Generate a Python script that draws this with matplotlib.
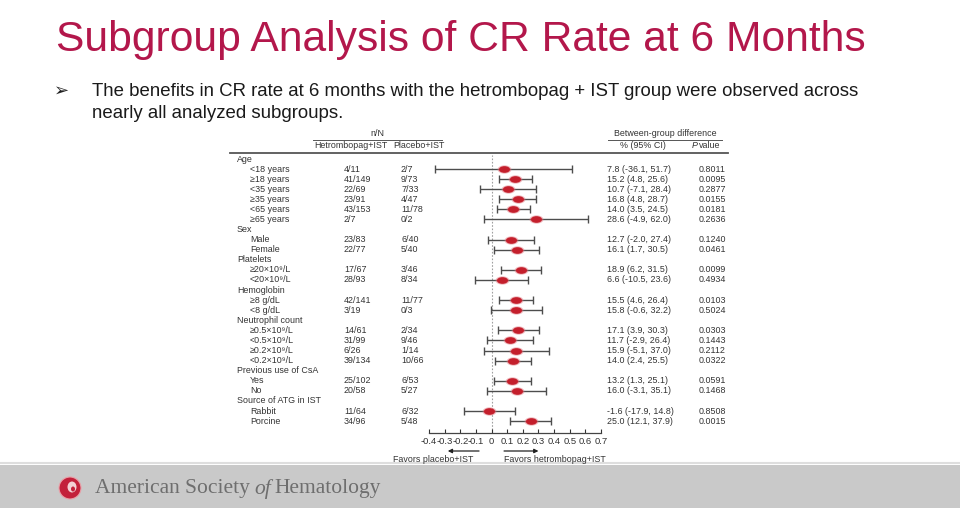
import numpy as np
import matplotlib.pyplot as plt
from matplotlib.path import Path
from matplotlib.lines import Line2D
from matplotlib.patches import Rectangle, Ellipse
from matplotlib.transforms import blended_transform_factory

plt.rcParams['font.family'] = ['Liberation Sans', 'DejaVu Sans']

# ---- data ----
group_names = ["Age", "Sex", "Platelets", "Hemoglobin", "Neutrophil count",
               "Previous use of CsA", "Source of ATG in IST"]
subgroups = [
    ["<18 years", "≥18 years", "<35 years", "≥35 years", "<65 years", "≥65 years"],
    ["Male", "Female"],
    ["≥20×10⁹/L", "<20×10⁹/L"],
    ["≥8 g/dL", "<8 g/dL"],
    ["≥0.5×10⁹/L", "<0.5×10⁹/L", "≥0.2×10⁹/L", "<0.2×10⁹/L"],
    ["Yes", "No"],
    ["Rabbit", "Porcine"],
]
hetro_nN = ["4/11", "41/149", "22/69", "23/91", "43/153", "2/7",
            "23/83", "22/77", "17/67", "28/93", "42/141", "3/19",
            "14/61", "31/99", "6/26", "39/134", "25/102", "20/58",
            "11/64", "34/96"]
placebo_nN = ["2/7", "9/73", "7/33", "4/47", "11/78", "0/2",
              "6/40", "5/40", "3/46", "8/34", "11/77", "0/3",
              "2/34", "9/46", "1/14", "10/66", "6/53", "5/27",
              "6/32", "5/48"]
diff = [7.8, 15.2, 10.7, 16.8, 14.0, 28.6, 12.7, 16.1, 18.9, 6.6,
        15.5, 15.8, 17.1, 11.7, 15.9, 14.0, 13.2, 16.0, -1.6, 25.0]
ci_low = [-36.1, 4.8, -7.1, 4.8, 3.5, -4.9, -2.0, 1.7, 6.2, -10.5,
          4.6, -0.6, 3.9, -2.9, -5.1, 2.4, 1.3, -3.1, -17.9, 12.1]
ci_high = [51.7, 25.6, 28.4, 28.7, 24.5, 62.0, 27.4, 30.5, 31.5, 23.6,
           26.4, 32.2, 30.3, 26.4, 37.0, 25.5, 25.1, 35.1, 14.8, 37.9]
p_values = ["0.8011", "0.0095", "0.2877", "0.0155", "0.0181", "0.2636",
            "0.1240", "0.0461", "0.0099", "0.4934", "0.0103", "0.5024",
            "0.0303", "0.1443", "0.2112", "0.0322", "0.0591", "0.1468",
            "0.8508", "0.0015"]
x_ticks = [-0.4, -0.3, -0.2, -0.1, 0, 0.1, 0.2, 0.3, 0.4, 0.5, 0.6, 0.7]
x_tick_labels = ["-0.4", "-0.3", "-0.2", "-0.1", "0", "0.1", "0.2",
                 "0.3", "0.4", "0.5", "0.6", "0.7"]

W, H = 960, 508
def fx(x):
    return x / W
def fy(y):
    return 1 - y / H

fig = plt.figure(figsize=(W / 100, H / 100), dpi=100)
fig.patch.set_facecolor('white')
renderer = fig.canvas.get_renderer()

# ---- title + bullet ----
fig.text(fx(56), fy(40), "Subgroup Analysis of CR Rate at 6 Months",
         fontsize=30.7, color='#b3174b', va='center')
fig.text(fx(54), fy(91), "➢", fontsize=13, color='#222222', va='center',
         family='DejaVu Sans')
fig.text(fx(92), fy(91), "The benefits in CR rate at 6 months with the hetrombopag + IST "
         "group were observed across", fontsize=13.4, color='#1a1a1a', va='center')
fig.text(fx(92), fy(114), "nearly all analyzed subgroups.", fontsize=13.4,
         color='#1a1a1a', va='center')

# ---- forest axes ----
Y0, DY = 159, 10.08
ax = fig.add_axes([fx(429), fy(433), fx(601) - fx(429), fy(155) - fy(433)])
ax.set_xlim(-0.4, 0.7)
ax.set_ylim((433 - Y0) / DY, (155 - Y0) / DY)
ax.patch.set_alpha(0)

# row index for each header and subgroup
header_rows = []
sub_rows = []
sub_labels = []
r = 0
for g, subs in zip(group_names, subgroups):
    header_rows.append(r)
    r += 1
    for s in subs:
        sub_rows.append(r)
        sub_labels.append(s)
        r += 1

est = np.array(diff) / 100
lo = np.array(ci_low) / 100
hi = np.array(ci_high) / 100
ax.errorbar(est, sub_rows, xerr=[est - lo, hi - est], fmt='none',
            ecolor='#4d4d4d', elinewidth=1, capsize=2.8, capthick=1, zorder=2)
circ = Path.unit_circle()
ell = Path(circ.vertices * [1, 0.6], circ.codes)
ax.plot(est, sub_rows, ls='none', marker=ell, ms=10, color='#e0707a',
        alpha=0.5, mec='none', zorder=3)
ax.plot(est, sub_rows, ls='none', marker=ell, ms=8, color='#c41f2c',
        mec='none', zorder=4)
ax.axvline(0, color='#a0a0a0', ls=(0, (1.5, 1.5)), lw=0.8, zorder=1)

for side in ['left', 'top', 'right']:
    ax.spines[side].set_visible(False)
ax.spines['bottom'].set_bounds(-0.4, 0.7)
ax.spines['bottom'].set_color('#444444')
ax.spines['bottom'].set_linewidth(0.9)
ax.set_yticks([])
ax.set_xticks(x_ticks)
ax.set_xticklabels(x_tick_labels)
ax.tick_params(axis='x', direction='in', length=3, width=0.8, labelsize=6.8,
               pad=3, colors='#333333')

# ---- table text ----
tr = blended_transform_factory(fig.transFigure, ax.transData)
fs = 6.4
tc = '#333333'
for g, rr in zip(group_names, header_rows):
    ax.text(fx(237), rr, g, transform=tr, fontsize=fs, color=tc, va='center')
for i, rr in enumerate(sub_rows):
    ax.text(fx(250), rr, sub_labels[i], transform=tr, fontsize=fs, color=tc, va='center')
    ax.text(fx(344), rr, hetro_nN[i], transform=tr, fontsize=fs, color=tc, va='center')
    ax.text(fx(401), rr, placebo_nN[i], transform=tr, fontsize=fs, color=tc, va='center')
    ax.text(fx(607), rr, f"{diff[i]:.1f} ({ci_low[i]:.1f}, {ci_high[i]:.1f})",
            transform=tr, fontsize=fs, color=tc, va='center')
    ax.text(fx(699), rr, p_values[i], transform=tr, fontsize=fs, color=tc, va='center')

# ---- column headers ----
fig.text(fx(377), fy(134), "n/N", fontsize=fs, color=tc, ha='center', va='center')
fig.text(fx(314), fy(146), "Hetrombopag+IST", fontsize=fs, color=tc, va='center')
fig.text(fx(393), fy(146), "Placebo+IST", fontsize=fs, color=tc, va='center')
fig.text(fx(665), fy(134), "Between-group difference", fontsize=fs, color=tc,
         ha='center', va='center')
fig.text(fx(620), fy(146), "% (95% CI)", fontsize=fs, color=tc, va='center')
fig.text(fx(692), fy(146), "P", fontsize=fs, color=tc, va='center', style='italic')
fig.text(fx(699), fy(146), "value", fontsize=fs, color=tc, va='center')
fig.add_artist(Line2D([fx(313), fx(442)], [fy(139.5)] * 2, color='#555555', lw=0.7))
fig.add_artist(Line2D([fx(608), fx(722)], [fy(139.5)] * 2, color='#555555', lw=0.7))
fig.add_artist(Line2D([fx(230), fx(728)], [fy(153)] * 2, color='#555555', lw=1.3))

# ---- favors arrows ----
ty = fy(451)
bt = blended_transform_factory(ax.transData, fig.transFigure)
ax.annotate("", xy=(-0.28, ty), xytext=(-0.08, ty), xycoords=bt,
            arrowprops=dict(arrowstyle='-|>', color='#222222', lw=0.9,
                            mutation_scale=6, shrinkA=0, shrinkB=0))
ax.annotate("", xy=(0.30, ty), xytext=(0.08, ty), xycoords=bt,
            arrowprops=dict(arrowstyle='-|>', color='#222222', lw=0.9,
                            mutation_scale=6, shrinkA=0, shrinkB=0))
fig.text(fx(433), fy(459), "Favors placebo+IST", fontsize=fs, color=tc,
         ha='center', va='center')
fig.text(fx(504), fy(459), "Favors hetrombopag+IST", fontsize=fs, color=tc,
         va='center')

# ---- footer band ----
fig.add_artist(Rectangle((0, 0), 1, fy(465), transform=fig.transFigure,
                         facecolor='#c9c9c9', edgecolor='none', zorder=0))
fig.add_artist(Line2D([0, 1], [fy(463)] * 2, color='#dedede', lw=1.5))
fig.add_artist(Ellipse((fx(70), fy(488)), 22 / W, 22 / H, transform=fig.transFigure,
                       facecolor='#c3203a', edgecolor='#e9a0a8', lw=0.8))
fig.add_artist(Ellipse((fx(72), fy(487)), 9 / W, 11 / H, transform=fig.transFigure,
                       facecolor='#f3d0d4', edgecolor='none'))
fig.add_artist(Ellipse((fx(73), fy(489)), 4 / W, 5 / H, transform=fig.transFigure,
                       facecolor='#c3203a', edgecolor='none'))
x = 95
for part, st in [("American Society", 'normal'), ("of", 'italic'), ("Hematology", 'normal')]:
    t = fig.text(fx(x), fy(489), part, fontsize=15.5, color='#6e6e6e',
                 family='Liberation Serif', style=st, va='center')
    x = t.get_window_extent(renderer).x1 + 4

fig.savefig('out.png', dpi=100)
